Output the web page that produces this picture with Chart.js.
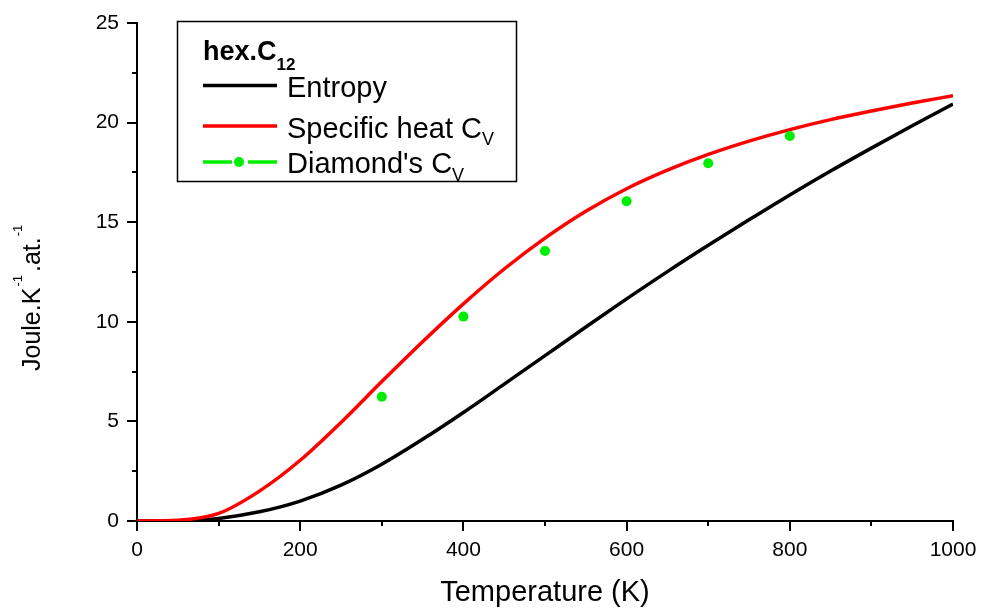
<!DOCTYPE html>
<html>
<head>
<meta charset="utf-8">
<script src="https://cdn.jsdelivr.net/npm/chart.js@4.4.1/dist/chart.umd.min.js"></script>
<style>
html,body{margin:0;padding:0;background:#fff;}
#c{display:block;}
</style>
</head>
<body>
<canvas id="c" width="981" height="612"></canvas>
<script>
// ---- data ----
const tempK      = [0,50,100,150,200,250,300,350,400,450,500,550,600,650,700,750,800,850,900,950,1000];
const specHeatCv = [0,0.04,0.38,1.5,3.05,4.95,7.0,9.0,10.9,12.65,14.2,15.55,16.68,17.61,18.4,19.07,19.65,20.15,20.58,20.98,21.35];
const entropy    = [0,0.01,0.13,0.46,1.0,1.8,2.85,4.1,5.45,6.87,8.3,9.74,11.15,12.52,13.84,15.12,16.37,17.57,18.72,19.84,20.93];
const diamondT   = [300,400,500,600,700,800];
const diamondCv  = [6.24,10.26,13.55,16.05,17.96,19.33];
const xTicks = {min:0, max:1000, step:200};
const yTicks = {min:0, max:25, step:5};

const FONT = '"Liberation Sans", Arial, sans-serif';
const pts = (xs, ys) => xs.map((x,i)=>({x:x, y:ys[i]}));

const decor = {
  id:'decor',
  afterDraw(chart){
    const ctx = chart.ctx;
    const xs = chart.scales.x, ys = chart.scales.y;
    ctx.save();
    ctx.strokeStyle = '#000';
    ctx.lineWidth = 2;
    ctx.beginPath();
    for (let v = xTicks.min; v <= xTicks.max; v += xTicks.step/2) {
      const p = Math.round(xs.getPixelForValue(v));
      const major = (v % xTicks.step) === 0;
      ctx.moveTo(p, xs.top);
      ctx.lineTo(p, xs.top + (major ? 10 : 5));
    }
    for (let v = yTicks.min; v <= yTicks.max; v += yTicks.step/2) {
      const p = Math.round(ys.getPixelForValue(v));
      const major = (v % yTicks.step) === 0;
      ctx.moveTo(ys.right, p);
      ctx.lineTo(ys.right - (major ? 10 : 5), p);
    }
    ctx.stroke();

    ctx.fillStyle = '#000';
    ctx.font = '29px ' + FONT;
    ctx.textAlign = 'center';
    ctx.textBaseline = 'alphabetic';
    ctx.fillText('Temperature (K)', (chart.chartArea.left + chart.chartArea.right)/2, 601);

    // y title (rotated, with superscripts)
    ctx.save();
    ctx.translate(40, 371);
    ctx.rotate(-Math.PI/2);
    ctx.textAlign = 'left';
    let x = 0;
    const seg = (t, size, dy) => {
      ctx.font = size + 'px ' + FONT;
      ctx.fillText(t, x, dy);
      x += ctx.measureText(t).width;
    };
    seg('Joule.K', 25, 0);
    x += 1;
    seg('-1', 13, -18);
    x += 3;
    seg('.at.', 25, 0);
    x += 1;
    seg('-1', 13, -18);
    ctx.restore();

    // legend box
    ctx.lineWidth = 1.5;
    ctx.strokeRect(177.5, 21.5, 339, 160);
    ctx.textAlign = 'left';
    ctx.font = 'bold 27px ' + FONT;
    ctx.fillText('hex.C', 203, 60);
    let w = ctx.measureText('hex.C').width;
    ctx.font = 'bold 17px ' + FONT;
    ctx.fillText('12', 203 + w, 70);

    ctx.lineWidth = 3.5;
    ctx.strokeStyle = '#000';
    ctx.beginPath(); ctx.moveTo(203, 85.5); ctx.lineTo(277, 85.5); ctx.stroke();
    ctx.strokeStyle = '#ff0000';
    ctx.beginPath(); ctx.moveTo(203, 126); ctx.lineTo(277, 126); ctx.stroke();
    ctx.strokeStyle = '#00ee00';
    ctx.beginPath(); ctx.moveTo(203, 162); ctx.lineTo(232, 162); ctx.moveTo(248, 162); ctx.lineTo(277, 162); ctx.stroke();
    ctx.fillStyle = '#00ee00';
    ctx.beginPath(); ctx.arc(239, 162, 5, 0, Math.PI*2); ctx.fill();

    ctx.fillStyle = '#000';
    ctx.font = '29px ' + FONT;
    ctx.fillText('Entropy', 287, 97);
    ctx.fillText('Specific heat C', 287, 138);
    w = ctx.measureText('Specific heat C').width;
    ctx.font = '18px ' + FONT;
    ctx.fillText('V', 287 + w, 145);
    ctx.font = '29px ' + FONT;
    ctx.fillText("Diamond's C", 287, 173);
    w = ctx.measureText("Diamond's C").width;
    ctx.font = '18px ' + FONT;
    ctx.fillText('V', 287 + w, 181);
    ctx.restore();
  }
};

new Chart(document.getElementById('c'), {
  type: 'scatter',
  data: {
    datasets: [
      {label:"Diamond's Cv", data: pts(diamondT, diamondCv), showLine:false, pointRadius:5, pointHoverRadius:5,
       pointBackgroundColor:'#00ee00', pointBorderWidth:0, order:0},
      {label:'Specific heat Cv', data: pts(tempK, specHeatCv), showLine:true, borderColor:'#ff0000', borderWidth:3.5,
       pointRadius:0, cubicInterpolationMode:'monotone', fill:false, order:1},
      {label:'Entropy', data: pts(tempK, entropy), showLine:true, borderColor:'#000000', borderWidth:3.5,
       pointRadius:0, cubicInterpolationMode:'monotone', fill:false, order:2}
    ]
  },
  options: {
    responsive:false,
    animation:false,
    devicePixelRatio:1,
    layout:{padding:{left:0,right:28,top:23,bottom:0}},
    plugins:{legend:{display:false}, tooltip:{enabled:false}},
    scales:{
      x:{type:'linear', min:xTicks.min, max:xTicks.max,
         ticks:{stepSize:xTicks.step, color:'#000', font:{family:FONT, size:21}, padding:17, maxRotation:0,
                callback:(v)=>String(v)},
         grid:{display:false, drawTicks:false},
         border:{display:true, color:'#000', width:2},
         afterFit(s){ s.height = 91; s.paddingLeft = 0; s.paddingRight = 0; s.paddingTop = 0; s.paddingBottom = 0; }},
      y:{type:'linear', min:yTicks.min, max:yTicks.max,
         ticks:{stepSize:yTicks.step, color:'#000', font:{family:FONT, size:21}, padding:18,
                callback:(v)=>String(v)},
         grid:{display:false, drawTicks:false},
         border:{display:true, color:'#000', width:2},
         afterFit(s){ s.width = 137; s.paddingLeft = 0; s.paddingRight = 0; s.paddingTop = 0; s.paddingBottom = 0; }}
    }
  },
  plugins:[decor]
});
</script>
</body>
</html>
